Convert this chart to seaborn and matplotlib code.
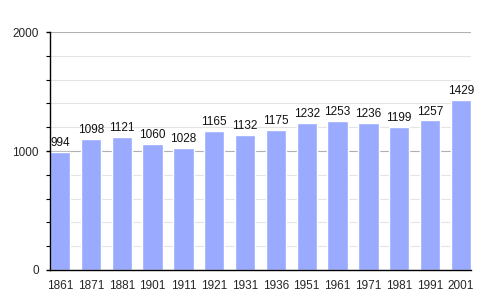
import matplotlib
matplotlib.use("Agg")
import matplotlib.pyplot as plt
import seaborn as sns
import pandas as pd
from matplotlib.ticker import MultipleLocator

years = ["1861", "1871", "1881", "1901", "1911", "1921", "1931", "1936",
         "1951", "1961", "1971", "1981", "1991", "2001"]
population = [994, 1098, 1121, 1060, 1028, 1165, 1132, 1175,
              1232, 1253, 1236, 1199, 1257, 1429]

df = pd.DataFrame({"year": years, "pop": population})

sns.set_theme(style="white")
plt.rcParams['font.family'] = ['Liberation Sans', 'DejaVu Sans']

fig = plt.figure(figsize=(5, 3), dpi=100)
ax = fig.add_axes([0.1, 0.1, 0.842, 0.793])

sns.barplot(data=df, x="year", y="pop", color="#99aaff", saturation=1,
            width=0.66, ax=ax, zorder=3)

ax.set_ylim(0, 2000)
ax.set_xlim(-0.33, len(years) - 1 + 0.33)
ax.yaxis.set_major_locator(MultipleLocator(1000))
ax.yaxis.set_minor_locator(MultipleLocator(200))
ax.grid(which="minor", axis="y", color="#e4e4e4", linewidth=0.8, zorder=0)
ax.grid(which="major", axis="y", color="#b0b0b0", linewidth=0.8, zorder=0)
ax.set_axisbelow(True)

for i, v in enumerate(population):
    ax.text(i, v + 25, str(v), ha="center", va="bottom", fontsize=8.5, color="#111111", zorder=5)

for s in ["top", "right"]:
    ax.spines[s].set_visible(False)
for s in ["left", "bottom"]:
    ax.spines[s].set_color("black")
    ax.spines[s].set_linewidth(1.0)
    ax.spines[s].set_zorder(6)

ax.tick_params(axis="y", which="major", left=True, length=3, width=1, color="black", labelsize=8.5, pad=5)
ax.tick_params(axis="y", which="minor", left=True, length=3, width=0.8, color="black")
ax.tick_params(axis="x", bottom=False, labelsize=8.5, pad=1)
ax.set_xlabel("")
ax.set_ylabel("")

fig.savefig("out.png", dpi=100)
